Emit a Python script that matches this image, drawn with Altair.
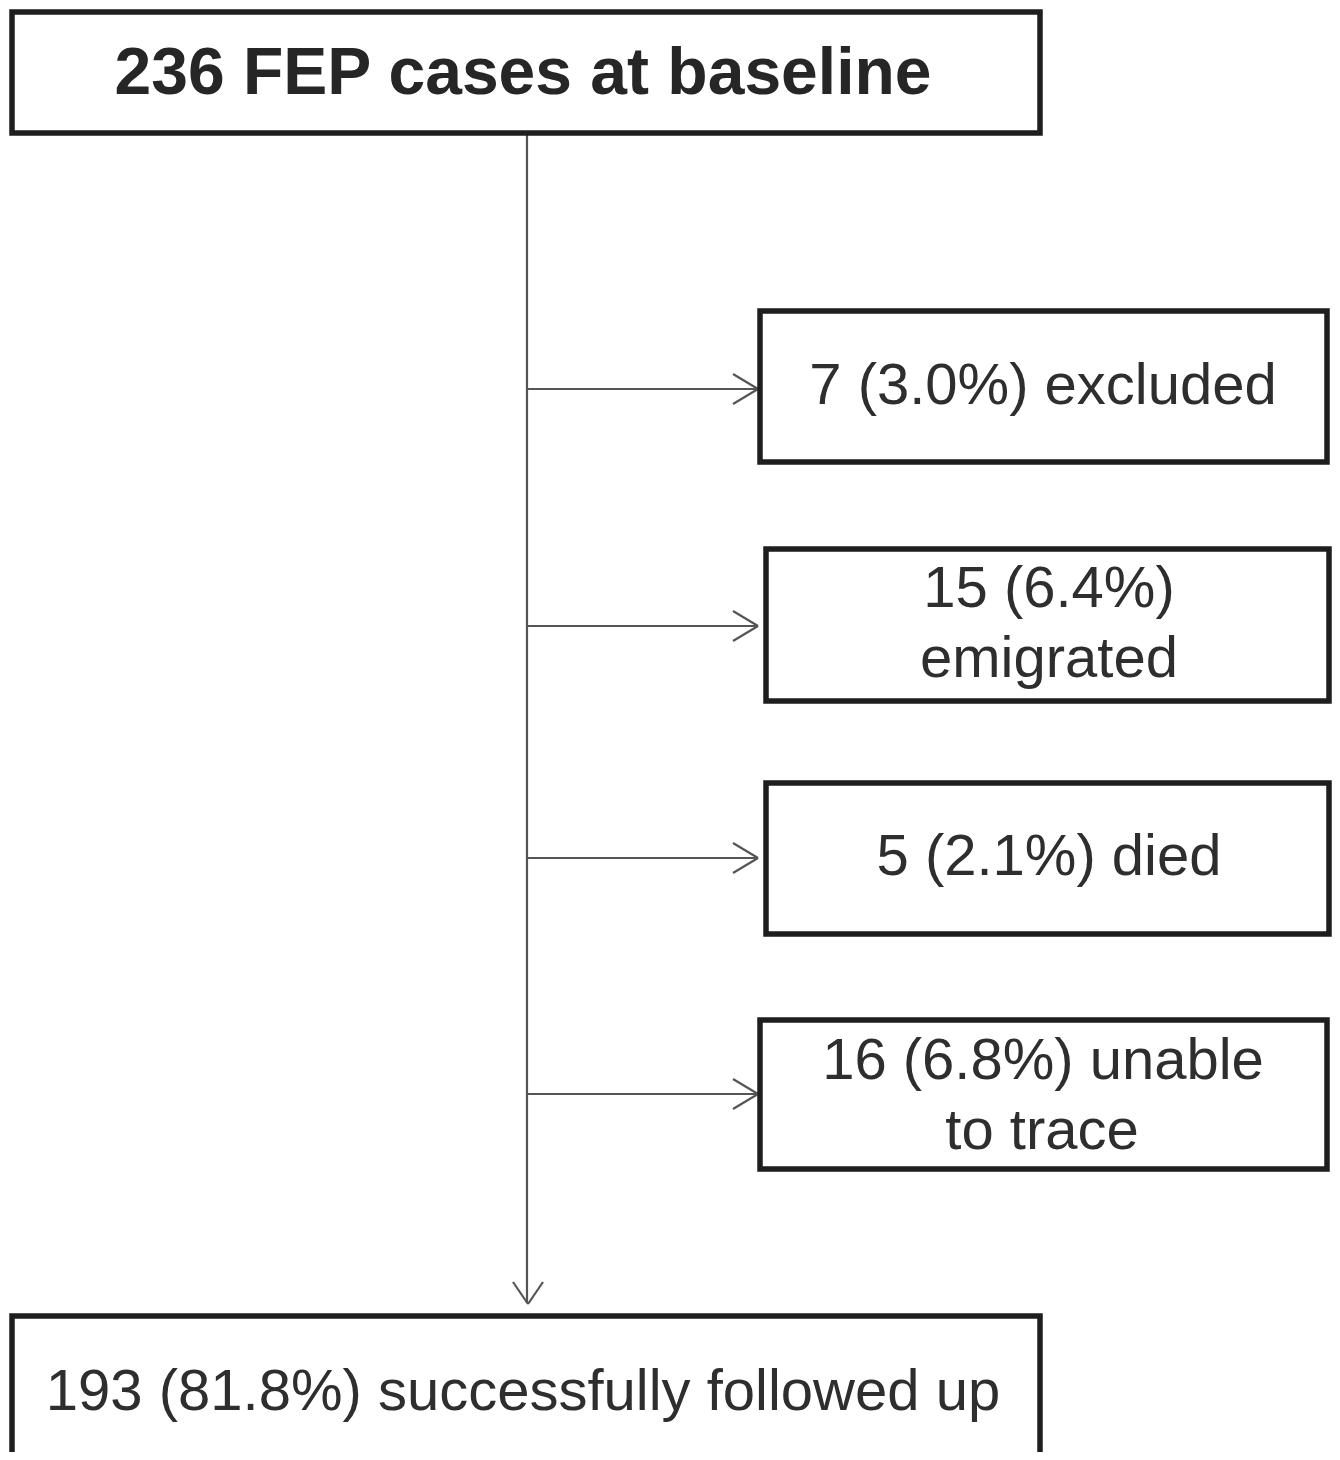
import altair as alt
import pandas as pd

# Boxes (layout in page pixels)
box_x1 = [12, 760, 766, 766, 760, 12]
box_x2 = [1040, 1327, 1329, 1329, 1327, 1040]
box_y1 = [12, 311, 549, 783, 1020, 1316]
box_y2 = [133, 462, 701, 934, 1169, 1480]

# Text lines
txt = ["236 FEP cases at baseline", "7 (3.0%) excluded", "15 (6.4%)", "emigrated",
       "5 (2.1%) died", "16 (6.8%) unable", "to trace", "193 (81.8%) successfully followed up"]
txt_x = [523, 1043, 1049, 1049, 1049, 1043, 1042, 523]
txt_y = [74, 387, 590, 660, 858, 1062, 1132, 1393]
txt_bold = [True, False, False, False, False, False, False, False]

# Connector lines
arrow_y = [389, 626, 858, 1094]
trunk_x = 527
branch_end = 758

boxes = pd.DataFrame({"x": box_x1, "x2": box_x2, "y": box_y1, "y2": box_y2})
texts = pd.DataFrame({"t": txt, "x": txt_x, "y": txt_y, "bold": txt_bold})

segs = []
segs.append((trunk_x, 133, trunk_x, 1303))
for ay in arrow_y:
    segs.append((trunk_x, ay, branch_end, ay))
    segs.append((branch_end, ay, branch_end - 25, ay - 15))
    segs.append((branch_end, ay, branch_end - 25, ay + 15))
segs.append((trunk_x + 1, 1304, trunk_x - 14, 1282))
segs.append((trunk_x + 1, 1304, trunk_x + 16, 1282))
lines = pd.DataFrame(segs, columns=["x", "y", "x2", "y2"])

xs = alt.Scale(domain=[8, 1332], nice=False, zero=False)
ys = alt.Scale(domain=[8, 1452], nice=False, zero=False, reverse=True)

rules = alt.Chart(lines).mark_rule(color="#555555", strokeWidth=2.2, clip=False).encode(
    x=alt.X("x:Q", scale=xs, axis=None), x2="x2:Q",
    y=alt.Y("y:Q", scale=ys, axis=None), y2="y2:Q")

rects = alt.Chart(boxes).mark_rect(fill="white", stroke="#1e1e1e", strokeWidth=5.5, clip=True).encode(
    x=alt.X("x:Q", scale=xs, axis=None), x2="x2:Q",
    y=alt.Y("y:Q", scale=ys, axis=None), y2="y2:Q")

bold_t = alt.Chart(texts[texts.bold]).mark_text(
    font="Liberation Sans", fontSize=66, fontWeight="bold", color="#262626",
    baseline="middle", align="center").encode(
    x=alt.X("x:Q", scale=xs, axis=None), y=alt.Y("y:Q", scale=ys, axis=None), text="t:N")

norm_t = alt.Chart(texts[~texts.bold]).mark_text(
    font="Liberation Sans", fontSize=58, color="#2e2e2e",
    baseline="middle", align="center").encode(
    x=alt.X("x:Q", scale=xs, axis=None), y=alt.Y("y:Q", scale=ys, axis=None), text="t:N")

chart = alt.layer(rules, rects, bold_t, norm_t).properties(
    width=1324, height=1444, padding=0, background="white",
    autosize=alt.AutoSizeParams(type="none")
).configure_view(stroke=None)

chart.save("out.html", embed_options={"renderer": "svg", "actions": False})
